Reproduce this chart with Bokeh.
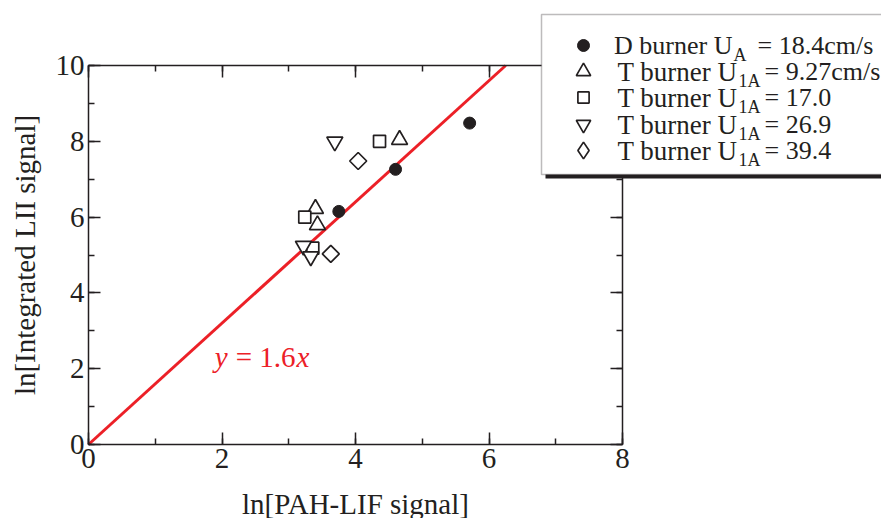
import math
from bokeh.plotting import figure
from bokeh.models import (Range1d, LinearAxis, SingleIntervalTicker, Label, BoxAnnotation,
                          Legend, LegendItem, CustomJSTickFormatter)
from bokeh.embed import file_html
from bokeh.resources import INLINE

# ---- data ----
d_x = [3.75, 4.60, 5.71]
d_y = [6.15, 7.26, 8.48]
t927_x = [3.40, 3.43, 4.66]
t927_y = [6.22, 5.79, 8.04]
t170_x = [3.24, 3.36, 4.36]
t170_y = [6.00, 5.18, 8.00]
t269_x = [3.69, 3.22, 3.33]
t269_y = [7.99, 5.24, 4.96]
t394_x = [4.04, 3.63]
t394_y = [7.48, 5.03]
fit_slope = 1.6

x_lim = [0, 8]
y_lim = [0, 10]

legend_main = ["D burner U", "T burner U", "T burner U", "T burner U", "T burner U"]
legend_sub = ["A", "1A", "1A", "1A", "1A"]
legend_rest = ["= 18.4cm/s", "= 9.27cm/s", "= 17.0", "= 26.9", "= 39.4"]

FONT = "Liberation Serif"
INK = "#231f20"
RED = "#ec2027"

# pixel geometry of the data box inside the 881x518 canvas
W, H = 881, 518
FL, FT, FW, FH = 88, 65, 534, 379
XS = FW / (x_lim[1] - x_lim[0])
YS = FH / (y_lim[1] - y_lim[0])

def dx(px):
    return x_lim[0] + (px - FL) / XS

def dy(py):
    return y_lim[0] + (FT + FH - py) / YS

# the drawing area covers the whole canvas; axes are pinned at the data box edges
p = figure(width=W, height=H, min_border=0,
           x_range=Range1d(dx(0), dx(W)), y_range=Range1d(dy(H), dy(0)),
           output_backend="svg", toolbar_location=None,
           x_axis_location=None, y_axis_location=None)
p.grid.visible = False
p.outline_line_color = None
p.background_fill_color = "white"
p.border_fill_color = "white"

def style_axis(ax, labels=True):
    ax.ticker = SingleIntervalTicker(interval=2, num_minor_ticks=2)
    ax.axis_line_color = INK
    ax.axis_line_width = 1.5
    ax.major_tick_line_color = INK
    ax.major_tick_line_width = 1.5
    ax.minor_tick_line_color = INK
    ax.minor_tick_line_width = 1.5
    ax.major_tick_in = 12
    ax.major_tick_out = 0
    ax.minor_tick_in = 6
    ax.minor_tick_out = 0
    ax.major_label_text_font = FONT
    ax.major_label_text_font_size = "29px"
    ax.major_label_text_color = INK
    ax.major_label_standoff = 4
    ax.axis_label_text_font = FONT
    ax.axis_label_text_font_size = "29px"
    ax.axis_label_text_font_style = "normal"
    ax.axis_label_text_color = INK
    if not labels:
        ax.formatter = CustomJSTickFormatter(code="return ''")

xb = LinearAxis(axis_label="ln[PAH-LIF signal]", fixed_location=y_lim[0], bounds=tuple(x_lim))
style_axis(xb)
xb.axis_label_standoff = 17
yl = LinearAxis(axis_label="ln[Integrated LII signal]", fixed_location=x_lim[0], bounds=tuple(y_lim))
style_axis(yl)
yl.axis_label_standoff = 12
xt = LinearAxis(fixed_location=y_lim[1], bounds=tuple(x_lim))
style_axis(xt, labels=False)
yr = LinearAxis(fixed_location=x_lim[1], bounds=tuple(y_lim))
style_axis(yr, labels=False)
p.add_layout(xb, "below")
p.add_layout(yl, "left")
p.add_layout(xt, "above")
p.add_layout(yr, "right")

# fitted line y = 1.6 x, from origin to the top of the data box
p.line([0, y_lim[1] / fit_slope], [0, y_lim[1]], line_color=RED, line_width=3)

common = dict(line_color=INK, line_width=1.7)
r_d = p.scatter(d_x, d_y, marker="circle", size=12, fill_color=INK, line_color=INK, line_width=1)
r_t1 = p.scatter(t927_x, t927_y, marker="triangle", size=16, fill_color="white", **common)
r_t2 = p.scatter(t170_x, t170_y, marker="square", size=12, fill_color="white", **common)
r_t3 = p.scatter(t269_x, t269_y, marker="inverted_triangle", size=16, fill_color="white", **common)
r_t4 = p.scatter(t394_x, t394_y, marker="square", angle=math.pi / 4, size=12,
                 fill_color="white", **common)
# hidden twin of the diamond series, used only for its legend key (legend keys ignore rotation)
r_t4_key = p.scatter(t394_x, t394_y, marker="diamond", size=12, fill_color="white",
                     visible=False, **common)

# fit annotation
lab_kw = dict(text_font=FONT, text_font_size="29px", text_color=RED, text_baseline="middle")
fit_mid = 356
p.add_layout(Label(x=dx(227), y=dy(fit_mid), text="y", text_font_style="italic",
                   text_align="right", **lab_kw))
p.add_layout(Label(x=dx(295), y=dy(fit_mid), text="= 1.6", text_align="right", **lab_kw))
p.add_layout(Label(x=dx(296), y=dy(fit_mid), text="x", text_font_style="italic",
                   text_align="left", **lab_kw))

# legend box with shadow
p.add_layout(BoxAnnotation(left=dx(545), right=dx(W + 20), top=dy(172), bottom=dy(178),
                           fill_color=INK, fill_alpha=1, line_color=None))
p.add_layout(BoxAnnotation(left=dx(541), right=dx(W + 20), top=dy(14), bottom=dy(174),
                           fill_color="white", fill_alpha=1, line_color=INK, line_width=1.5))

# one legend per row so each key can get its own size
row_mid = [45, 71, 97, 124, 150]
key_x = 583
key_box = [30, 36, 28, 36, 42]
renderers = [r_d, r_t1, r_t2, r_t3, r_t4_key]
for i, r in enumerate(renderers):
    b = key_box[i]
    leg = Legend(items=[LegendItem(label=" ", renderers=[r])],
                 location=(key_x - b // 2, H - (row_mid[i] + b // 2)),
                 glyph_width=b, glyph_height=b, label_height=b, label_width=1,
                 label_standoff=0, spacing=0, padding=0, margin=0,
                 label_text_font_size="8px", inactive_fill_alpha=0,
                 border_line_color=None, background_fill_alpha=0)
    p.add_layout(leg, "center")

txt_kw = dict(text_font=FONT, text_color=INK, text_baseline="middle")
main_size = ["26px", "27px", "27px", "27px", "27px"]
sub_x = [733, 738, 738, 738, 738]
rest_x = [757, 764, 764, 764, 764]
for i in range(5):
    p.add_layout(Label(x=dx(sub_x[i] - 1), y=dy(row_mid[i]), text=legend_main[i],
                       text_font_size=main_size[i], text_align="right", **txt_kw))
    p.add_layout(Label(x=dx(sub_x[i]), y=dy(row_mid[i] + 9), text=legend_sub[i],
                       text_font_size="18px", text_align="left", **txt_kw))
    p.add_layout(Label(x=dx(rest_x[i]), y=dy(row_mid[i]), text=legend_rest[i],
                       text_font_size="26px", text_align="left", **txt_kw))

open("out.html", "w").write(file_html(p, INLINE))
